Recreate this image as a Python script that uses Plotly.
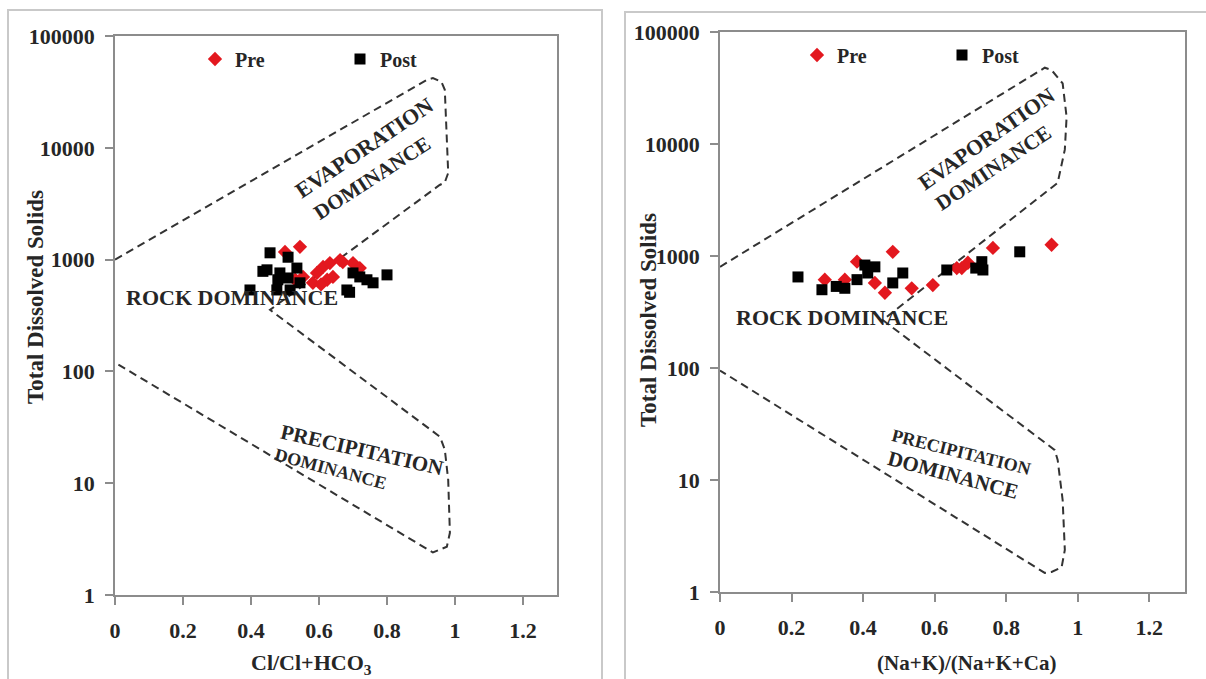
import plotly.graph_objects as go

W, H = 1206, 679

# ---------------- data ----------------
# Left panel: Cl/(Cl+HCO3) vs TDS
left_pre_x = [0.544, 0.500, 0.612, 0.594, 0.632, 0.662, 0.700, 0.624, 0.582, 0.553, 0.641, 0.720, 0.670, 0.606, 0.530]
left_pre_y = [1300, 1170, 860, 760, 930, 990, 930, 660, 620, 700, 700, 840, 950, 600, 660]
left_post_x = [0.456, 0.509, 0.447, 0.535, 0.485, 0.509, 0.397, 0.476, 0.515, 0.700, 0.741, 0.800,
               0.682, 0.759, 0.435, 0.544, 0.479, 0.720, 0.690]
left_post_y = [1150, 1050, 810, 840, 760, 685, 535, 535, 535, 760, 660, 730, 535, 620, 785, 620, 660, 700, 510]

# Right panel: (Na+K)/(Na+K+Ca) vs TDS
right_pre_x = [0.293, 0.349, 0.344, 0.383, 0.433, 0.461, 0.483, 0.536, 0.595, 0.676, 0.693, 0.662, 0.763, 0.927]
right_pre_y = [615, 615, 550, 890, 575, 470, 1090, 515, 550, 780, 870, 780, 1180, 1260]
right_post_x = [0.218, 0.285, 0.325, 0.349, 0.383, 0.405, 0.433, 0.413, 0.483, 0.511, 0.634, 0.732,
                0.735, 0.838, 0.715]
right_post_y = [650, 500, 535, 515, 615, 830, 800, 705, 575, 705, 750, 890, 750, 1090, 780]

# Gibbs boundary outlines (evaporation / rock / precipitation)
left_bound_x = [0.0, 0.918, 0.935, 0.960, 0.970, 0.980, 0.970, 0.955, 0.456,
                0.956, 0.970, 0.980, 0.985, 0.976, 0.935, 0.010]
left_bound_y = [1000, 40700, 42000, 38900, 33000, 5960, 4900, 4650, 355,
                26, 20, 10.7, 3.6, 2.7, 2.4, 115]
right_bound_x = [0.0, 0.908, 0.927, 0.958, 0.969, 0.964, 0.944, 0.455,
                 0.936, 0.944, 0.958, 0.964, 0.955, 0.927, 0.908, 0.0]
right_bound_y = [800, 48000, 45700, 34700, 17400, 8900, 4500, 268,
                 18.5, 15.1, 6.6, 2.37, 1.66, 1.51, 1.48, 95]

x_ticks = [0, 0.2, 0.4, 0.6, 0.8, 1, 1.2]
y_ticks = [1, 10, 100, 1000, 10000, 100000]
y_tick_text = ["1", "10", "100", "1000", "10000", "100000"]

# ---------------- styling helpers ----------------
FONT = "Liberation Serif"
TXT = "#262626"
AX = "#8c8c8c"
RED = "#e3181f"


def px_x(p):
    return p / W


def px_y(p):
    return 1 - p / H


fig = go.Figure()

# boundaries
fig.add_trace(go.Scatter(x=left_bound_x, y=left_bound_y, mode="lines",
                         line=dict(color="#333333", width=2, dash="8px,5px"),
                         showlegend=False, hoverinfo="skip", xaxis="x", yaxis="y"))
fig.add_trace(go.Scatter(x=right_bound_x, y=right_bound_y, mode="lines",
                         line=dict(color="#333333", width=2, dash="8px,5px"),
                         showlegend=False, hoverinfo="skip", xaxis="x2", yaxis="y2"))

# points
fig.add_trace(go.Scatter(x=left_pre_x, y=left_pre_y, mode="markers", name="Pre",
                         marker=dict(symbol="diamond", size=11, color=RED),
                         xaxis="x", yaxis="y", legend="legend"))
fig.add_trace(go.Scatter(x=left_post_x, y=left_post_y, mode="markers", name="Post",
                         marker=dict(symbol="square", size=11, color="black"),
                         xaxis="x", yaxis="y", legend="legend"))
fig.add_trace(go.Scatter(x=right_pre_x, y=right_pre_y, mode="markers", name="Pre",
                         marker=dict(symbol="diamond", size=11, color=RED),
                         xaxis="x2", yaxis="y2", legend="legend2"))
fig.add_trace(go.Scatter(x=right_post_x, y=right_post_y, mode="markers", name="Post",
                         marker=dict(symbol="square", size=11, color="black"),
                         xaxis="x2", yaxis="y2", legend="legend2"))

tickfont = dict(family=FONT, size=22, color=TXT, weight="bold")


def xaxis_cfg(dom, anchor):
    return dict(domain=dom, range=[0, 1.3], tickvals=x_ticks, ticks="outside", ticklen=8,
                tickcolor=AX, tickwidth=1.5, showline=True, linecolor=AX, linewidth=1.5,
                mirror=True, showgrid=False, zeroline=False, tickfont=tickfont,
                ticklabelstandoff=7, automargin=False, anchor=anchor)


def yaxis_cfg(dom, anchor):
    return dict(domain=dom, type="log", range=[0, 5], tickvals=y_ticks, ticktext=y_tick_text,
                ticks="outside", ticklen=8, tickcolor=AX, tickwidth=1.5, showline=True,
                linecolor=AX, linewidth=1.5, mirror=True, showgrid=False, zeroline=False,
                tickfont=tickfont, ticklabelstandoff=6, automargin=False, anchor=anchor)


legend_common = dict(orientation="h", xanchor="left", yanchor="middle", bgcolor="rgba(0,0,0,0)",
                     font=dict(family=FONT, size=20, color=TXT, weight="bold"),
                     itemwidth=30, entrywidth=100, entrywidthmode="pixels", tracegroupgap=0)

ann_font = dict(family=FONT, color=TXT, weight="bold")


def ann(text, x, y, size, angle, xref, yref):
    return dict(text=text, x=x, y=y, xref=xref, yref=yref, showarrow=False, textangle=angle,
                font=dict(size=size, **ann_font), xanchor="center", yanchor="middle")


def paper_text(text, xp, yp, size, angle):
    return dict(text=text, x=px_x(xp), y=px_y(yp), xref="paper", yref="paper",
                showarrow=False, textangle=angle, font=dict(size=size, **ann_font),
                xanchor="center", yanchor="middle")


annotations = [
    # left panel
    ann("EVAPORATION", 0.735, 4.0, 22, -34, "x", "y"),
    ann("DOMINANCE", 0.756, 3.73, 21, -33, "x", "y"),
    ann("ROCK DOMINANCE", 0.344, 2.66, 22, 0, "x", "y"),
    ann("PRECIPITATION", 0.726, 1.30, 21, 13, "x", "y"),
    ann("DOMINANCE", 0.635, 1.127, 18, 15, "x", "y"),
    # right panel
    ann("EVAPORATION", 0.746, 4.05, 22, -35, "x2", "y2"),
    ann("DOMINANCE", 0.763, 3.79, 21, -34, "x2", "y2"),
    ann("ROCK DOMINANCE", 0.341, 2.455, 22, 0, "x2", "y2"),
    ann("PRECIPITATION", 0.673, 1.25, 18, 14, "x2", "y2"),
    ann("DOMINANCE", 0.651, 1.045, 21, 15, "x2", "y2"),
    # axis titles
    paper_text("Total Dissolved Solids", 35, 297, 23, -90),
    paper_text("Total Dissolved Solids", 648, 320, 23, -90),
    paper_text("Cl/Cl+HCO<sub>3</sub>", 311, 664, 22, 0),
    paper_text("(Na+K)/(Na+K+Ca)", 966, 663, 21, 0),
]

shapes = [
    dict(type="rect", xref="paper", yref="paper", x0=px_x(8), x1=px_x(602), y0=px_y(10), y1=px_y(700),
         line=dict(color="#c9c9c9", width=2), layer="below"),
    dict(type="rect", xref="paper", yref="paper", x0=px_x(625), x1=px_x(1215), y0=px_y(12), y1=px_y(700),
         line=dict(color="#c9c9c9", width=2), layer="below"),
]

fig.update_layout(
    width=W, height=H, autosize=False,
    margin=dict(l=0, r=0, t=0, b=0),
    paper_bgcolor="white", plot_bgcolor="white",
    xaxis=xaxis_cfg([px_x(115), px_x(557)], "y"),
    yaxis=yaxis_cfg([px_y(595), px_y(36)], "x"),
    xaxis2=xaxis_cfg([px_x(720), px_x(1185)], "y2"),
    yaxis2=yaxis_cfg([px_y(592), px_y(32)], "x2"),
    legend=dict(legend_common, x=px_x(195), y=px_y(59)),
    legend2=dict(legend_common, x=px_x(797), y=px_y(55)),
    annotations=annotations,
    shapes=shapes,
)

fig.write_html("out.html", config={"displayModeBar": False},
               post_script="document.body.style.margin='0';")
